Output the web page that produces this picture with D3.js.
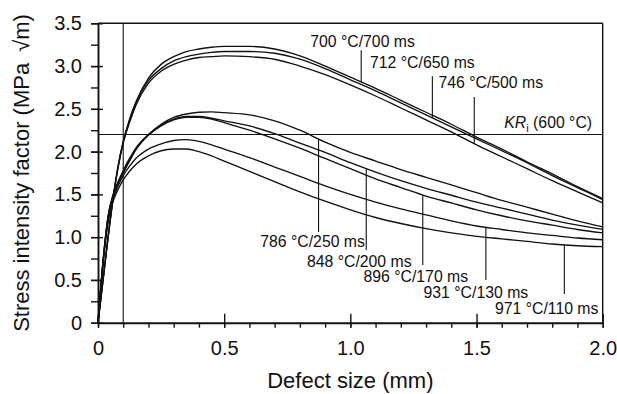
<!DOCTYPE html>
<html><head><meta charset="utf-8">
<script src="https://cdn.jsdelivr.net/npm/d3@7/dist/d3.min.js"></script>
<style>
html,body{margin:0;padding:0;background:#fff;}
svg{display:block;}
text{font-family:"Liberation Sans",Arial,Helvetica,sans-serif;fill:#111;}
</style></head><body>
<div id="chart"></div>
<script>
// ---- data ----
const defectSize = [0, 0.02, 0.04, 0.06, 0.08, 0.1, 0.125, 0.15, 0.2, 0.25, 0.3, 0.35, 0.4, 0.45, 0.5, 0.6, 0.7, 0.8, 0.9, 1.0, 1.1, 1.2, 1.3, 1.4, 1.5, 1.6, 1.7, 1.8, 1.9, 2.0];
const seriesNames = ["700 °C/700 ms", "712 °C/650 ms", "746 °C/500 ms", "786 °C/250 ms", "848 °C/200 ms", "896 °C/170 ms", "931 °C/130 ms", "971 °C/110 ms"];
const k700 = [0, 0.5, 1.0, 1.46, 1.84, 2.12, 2.38, 2.58, 2.86, 3.02, 3.11, 3.17, 3.2, 3.22, 3.23, 3.23, 3.2, 3.12, 3.0, 2.87, 2.74, 2.6, 2.46, 2.32, 2.17, 2.03, 1.88, 1.74, 1.59, 1.45];
const k712 = [0, 0.5, 1.0, 1.46, 1.83, 2.11, 2.36, 2.56, 2.83, 2.97, 3.06, 3.11, 3.14, 3.16, 3.17, 3.17, 3.15, 3.08, 2.97, 2.84, 2.71, 2.57, 2.43, 2.29, 2.15, 2.01, 1.87, 1.72, 1.58, 1.44];
const k746 = [0, 0.5, 1.0, 1.45, 1.82, 2.1, 2.34, 2.54, 2.8, 2.94, 3.02, 3.07, 3.1, 3.11, 3.12, 3.11, 3.08, 3.0, 2.9, 2.78, 2.65, 2.51, 2.37, 2.23, 2.08, 1.94, 1.8, 1.66, 1.53, 1.4];
const k786 = [0, 0.72, 1.25, 1.5, 1.65, 1.78, 1.92, 2.04, 2.2, 2.32, 2.4, 2.44, 2.46, 2.465, 2.455, 2.43, 2.36, 2.25, 2.11, 1.99, 1.89, 1.79, 1.7, 1.61, 1.52, 1.43, 1.35, 1.27, 1.19, 1.12];
const k848 = [0, 0.72, 1.24, 1.49, 1.64, 1.76, 1.9, 2.03, 2.2, 2.31, 2.38, 2.41, 2.41, 2.39, 2.36, 2.3, 2.21, 2.1, 1.99, 1.87, 1.76, 1.66, 1.57, 1.49, 1.41, 1.34, 1.27, 1.2, 1.14, 1.09];
const k896 = [0, 0.72, 1.23, 1.48, 1.63, 1.75, 1.89, 2.02, 2.19, 2.3, 2.37, 2.4, 2.4, 2.38, 2.34, 2.25, 2.15, 2.04, 1.92, 1.8, 1.68, 1.58, 1.48, 1.4, 1.32, 1.25, 1.19, 1.14, 1.09, 1.05];
const k931 = [0, 0.7, 1.2, 1.45, 1.6, 1.72, 1.83, 1.92, 2.03, 2.09, 2.13, 2.14, 2.12, 2.08, 2.03, 1.93, 1.82, 1.71, 1.6, 1.5, 1.41, 1.33, 1.26, 1.19, 1.13, 1.09, 1.05, 1.02, 0.99, 0.97];
const k971 = [0, 0.68, 1.17, 1.42, 1.56, 1.67, 1.77, 1.85, 1.95, 2.01, 2.03, 2.03, 2.0, 1.95, 1.89, 1.77, 1.65, 1.53, 1.42, 1.32, 1.23, 1.16, 1.1, 1.05, 1.01, 0.98, 0.95, 0.92, 0.9, 0.89];
const seriesValues = [k700, k712, k746, k786, k848, k896, k931, k971];

// annotation anchors (data units)
const leaderX   = [1.043, 1.325, 1.491, 0.874, 1.063, 1.287, 1.537, 1.848];
const leaderEnd = [3.186, 2.882, 2.637, 1.06, 0.849, 0.674, 0.499, 0.335];
const labelX    = [0.841, 1.078, 1.349, 0.643, 0.828, 1.052, 1.29, 1.573];
const labelY    = [3.227, 2.972, 2.745, 0.885, 0.651, 0.475, 0.292, 0.102];

const xTickValues = [0, 0.5, 1.0, 1.5, 2.0];
const xTickLabels = ["0", "0.5", "1.0", "1.5", "2.0"];
const yTickValues = [0, 0.5, 1.0, 1.5, 2.0, 2.5, 3.0, 3.5];
const yTickLabels = ["0", "0.5", "1.0", "1.5", "2.0", "2.5", "3.0", "3.5"];
const xMinorTicks = d3.range(0, 2.001, 0.1).map(v => +v.toFixed(2));
const yMinorTicks = d3.range(0, 3.501, 0.25).map(v => +v.toFixed(2));
const krLevel = 2.2;
const krLabelX = 1.958, krLabelY = 2.275;
const refDefect = 0.1;
const xTitle = "Defect size (mm)";
const yTitle = "Stress intensity factor (MPa\u2002√m)";

// ---- layout ----
const W = 617, H = 394;
const m = {left: 98, right: 14.3, top: 23.3, bottom: 71.3};
const x = d3.scaleLinear().domain([0, 2]).range([m.left, W - m.right]);
const y = d3.scaleLinear().domain([0, 3.5]).range([H - m.bottom, m.top]);

const svg = d3.select("#chart").append("svg").attr("width", W).attr("height", H);
const ink = "#111";

// frame top/right
svg.append("line").attr("x1", x(0)).attr("x2", x(2)).attr("y1", y(3.5)).attr("y2", y(3.5)).attr("stroke", ink).attr("stroke-width", 1.4);
svg.append("line").attr("x1", x(2)).attr("x2", x(2)).attr("y1", y(3.5)).attr("y2", y(0)).attr("stroke", ink).attr("stroke-width", 1.4);

// reference lines
svg.append("line").attr("x1", x(0)).attr("x2", x(2)).attr("y1", y(krLevel)).attr("y2", y(krLevel)).attr("stroke", ink).attr("stroke-width", 1.1);
svg.append("line").attr("x1", x(refDefect)).attr("x2", x(refDefect)).attr("y1", y(0)).attr("y2", y(3.5)).attr("stroke", ink).attr("stroke-width", 1.1);

// curves
const line = d3.line().x((d, i) => x(defectSize[i])).y(d => y(d)).curve(d3.curveMonotoneX);
svg.append("g").selectAll("path").data(seriesValues).join("path")
  .attr("d", line).attr("fill", "none").attr("stroke", ink).attr("stroke-width", 1.35);

// leaders + labels
function valAt(vals, xv) { return d3.scaleLinear().domain(defectSize).range(vals)(xv); }
const ann = svg.append("g");
seriesNames.forEach((name, i) => {
  const yc = valAt(seriesValues[i], leaderX[i]);
  ann.append("line").attr("x1", x(leaderX[i])).attr("x2", x(leaderX[i]))
    .attr("y1", y(yc)).attr("y2", y(leaderEnd[i])).attr("stroke", ink).attr("stroke-width", 1.1);
  ann.append("text").attr("x", x(labelX[i])).attr("y", y(labelY[i]))
    .attr("font-size", 15.8).text(name);
});
const kr = ann.append("text").attr("x", x(krLabelX)).attr("y", y(krLabelY)).attr("font-size", 15.8).attr("text-anchor", "end");
kr.append("tspan").attr("font-style", "italic").text("KR");
kr.append("tspan").attr("font-size", 11).attr("dy", 4).text("i");
kr.append("tspan").attr("dy", -4).text(" (600 °C)");

// axes
const gx = svg.append("g").attr("transform", `translate(0,${y(0)})`);
gx.call(d3.axisBottom(x).tickValues(xMinorTicks).tickSize(5).tickFormat(""));
gx.call(g => g.select(".domain").remove());
const gx2 = svg.append("g").attr("transform", `translate(0,${y(0)})`);
gx2.call(d3.axisBottom(x).tickValues(xTickValues).tickFormat((d, i) => xTickLabels[i]).tickSizeInner(5).tickSizeOuter(0).tickPadding(13));
const gx3 = svg.append("g").attr("transform", `translate(0,${y(0)})`);
gx3.call(d3.axisTop(x).tickValues(xTickValues).tickSize(9).tickFormat(""));
gx3.call(g => g.select(".domain").remove());

const gy = svg.append("g").attr("transform", `translate(${x(0)},0)`);
gy.call(d3.axisLeft(y).tickValues(yMinorTicks).tickSize(7).tickFormat(""));
gy.call(g => g.select(".domain").remove());
const gy2 = svg.append("g").attr("transform", `translate(${x(0)},0)`);
gy2.call(d3.axisLeft(y).tickValues(yTickValues).tickFormat((d, i) => yTickLabels[i]).tickSizeInner(7).tickSizeOuter(0).tickPadding(9));
const gy3 = svg.append("g").attr("transform", `translate(${x(0)},0)`);
gy3.call(d3.axisRight(y).tickValues(yTickValues).tickSize(5).tickFormat(""));
gy3.call(g => g.select(".domain").remove());

svg.selectAll(".tick line").attr("stroke", ink).attr("stroke-width", 1.4);
svg.selectAll(".domain").attr("stroke", ink).attr("stroke-width", 1.9);
svg.selectAll(".tick text").attr("font-size", 20).attr("fill", ink)
  .attr("font-family", '"Liberation Sans", Arial, sans-serif');

// titles
svg.append("text").attr("x", (x(0) + x(2)) / 2).attr("y", 388).attr("text-anchor", "middle")
  .attr("font-size", 22).text(xTitle);
svg.append("text").attr("transform", `translate(29,${(y(0) + y(3.5)) / 2}) rotate(-90)`)
  .attr("text-anchor", "middle").attr("font-size", 22).text(yTitle);
</script>
</body></html>
